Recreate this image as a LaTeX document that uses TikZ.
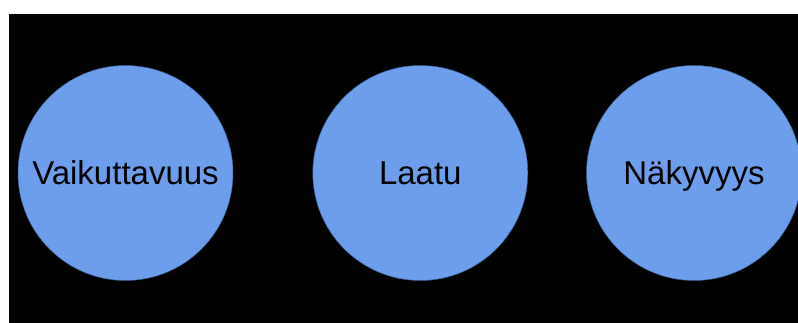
\documentclass[tikz,border=0pt]{standalone}
\usepackage{fontspec}
\setmainfont{Liberation Sans}
\definecolor{circfill}{HTML}{6D9EEB}
\definecolor{circedge}{HTML}{3C5E94}
\begin{document}
\begin{tikzpicture}[x=1pt,y=-1pt,
  bubble/.style={circle, fill=circfill, draw=circedge, line width=0.5pt, minimum size=215pt, inner sep=0pt, font=\fontsize{33}{38}\selectfont, text=black, text height=23.2pt, text depth=0pt}]
\useasboundingbox (0,0) rectangle (798,323);
\fill[white] (0,0) rectangle (798,323);
\fill[black] (9,14) rectangle (798,323);
\begin{scope}
\clip (9,14) rectangle (798,323);
\node[bubble] (v) at (125.5,173) {Vaikuttavuus};
\node[bubble] (l) at (420.3,173) {Laatu};
\node[bubble] (n) at (694,173) {Näkyvyys};
\end{scope}
\end{tikzpicture}
\end{document}
